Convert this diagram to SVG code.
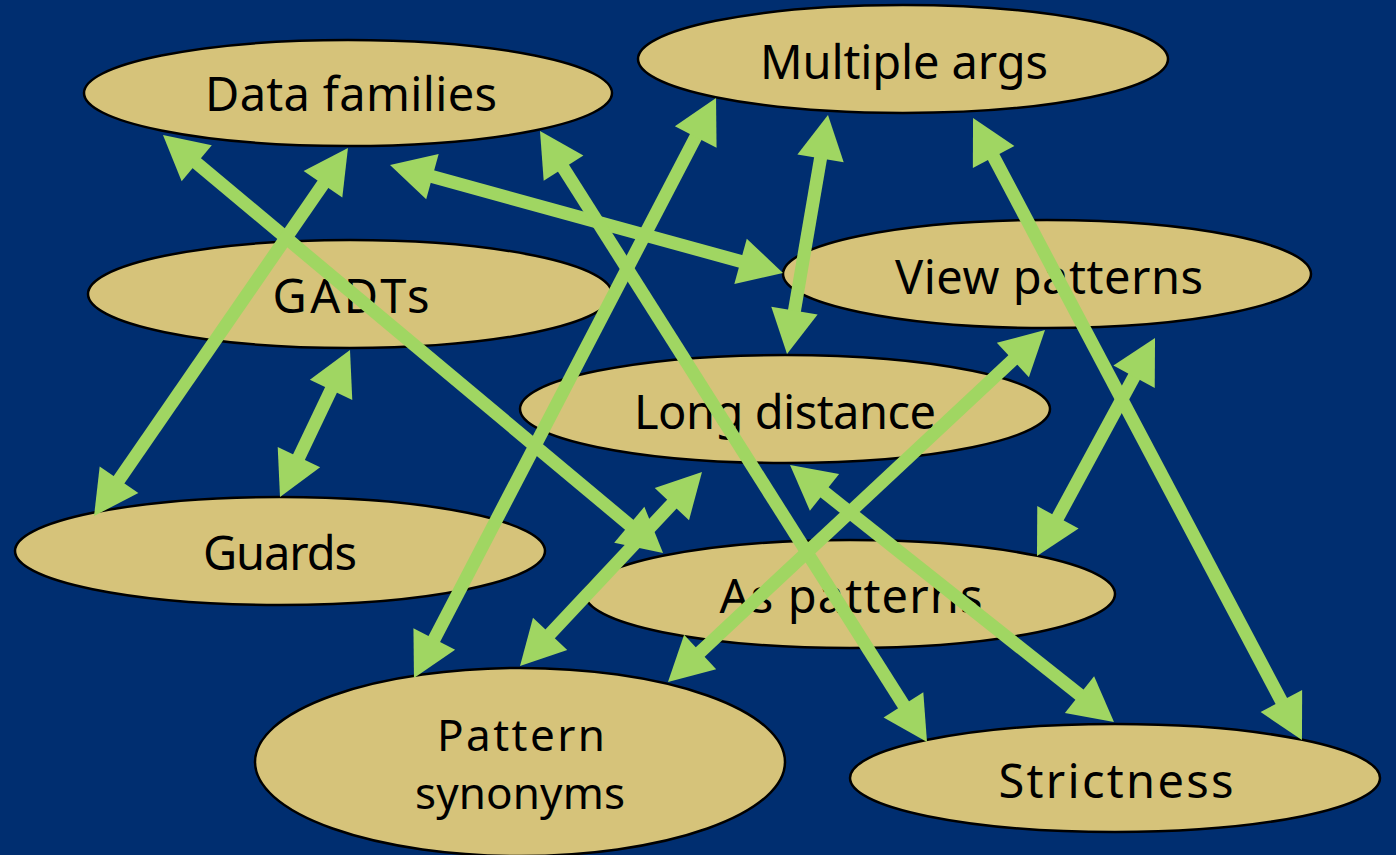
<svg xmlns="http://www.w3.org/2000/svg" width="1396" height="855" viewBox="0 0 1396 855">
  <defs>
    <style>
      .node ellipse { fill: #D6C37A; stroke: #000; stroke-width: 2.5; }
      .node text { font-family: "Noto Sans", "DejaVu Sans", sans-serif; font-size: 47px; fill: #000; text-anchor: middle; }
      .node text.two-line { font-size: 44px; }
      .edges line { stroke: #A0D662; stroke-width: 13; marker-start: url(#head); marker-end: url(#head); }
    </style>
    <marker id="head" markerUnits="userSpaceOnUse" markerWidth="44" markerHeight="47" refX="24" refY="23.5" orient="auto-start-reverse" overflow="visible">
      <path d="M0,0 L44,23.5 L0,47 Z" fill="#A0D662"/>
    </marker>
  </defs>

  <rect width="1396" height="855" fill="#002E70"/>

  <g id="data-families" class="node">
    <ellipse cx="348" cy="93" rx="264" ry="53"/>
    <text x="351" y="111" textLength="292">Data families</text>
  </g>
  <g id="multiple-args" class="node">
    <ellipse cx="903" cy="59" rx="265" ry="54"/>
    <text x="904" y="79" textLength="288">Multiple args</text>
  </g>
  <g id="view-patterns" class="node">
    <ellipse cx="1047" cy="274" rx="264" ry="54"/>
    <text x="1049" y="294" textLength="308">View patterns</text>
  </g>
  <g id="gadts" class="node">
    <ellipse cx="350" cy="294" rx="262" ry="54"/>
    <text x="351" y="313" textLength="157">GADTs</text>
  </g>
  <g id="long-distance" class="node">
    <ellipse cx="785" cy="409" rx="265" ry="54"/>
    <text x="785" y="429" textLength="302">Long distance</text>
  </g>
  <g id="guards" class="node">
    <ellipse cx="280" cy="551" rx="265" ry="54"/>
    <text x="280" y="570" textLength="154">Guards</text>
  </g>
  <g id="as-patterns" class="node">
    <ellipse cx="850" cy="594" rx="265" ry="54"/>
    <text x="851" y="613" textLength="263">As patterns</text>
  </g>
  <g id="pattern-synonyms" class="node">
    <ellipse cx="520" cy="762" rx="265" ry="94"/>
    <text class="two-line" x="521" y="751" textLength="168">Pattern</text>
    <text class="two-line" x="520" y="809" textLength="210">synonyms</text>
  </g>
  <g id="strictness" class="node">
    <ellipse cx="1115" cy="778" rx="265" ry="54"/>
    <text x="1116" y="798" textLength="235">Strictness</text>
  </g>

  <!-- two-way links, each end pulled back 20px so the head covers the stroke -->
  <g id="connectors" class="edges">
    <line x1="178.3" y1="147.8" x2="647.7" y2="540.2"/>
    <line x1="336.6" y1="164.5" x2="105.4" y2="499.5"/>
    <line x1="409.3" y1="170.3" x2="763.7" y2="267.7"/>
    <line x1="550.7" y1="147.9" x2="916.3" y2="725.1"/>
    <line x1="706.8" y1="115.7" x2="423.2" y2="660.3"/>
    <line x1="824.6" y1="134.7" x2="790.4" y2="334.3"/>
    <line x1="982.4" y1="135.7" x2="1292.6" y2="722.3"/>
    <line x1="341.4" y1="368.1" x2="288.6" y2="478.9"/>
    <line x1="688.3" y1="486.6" x2="533.7" y2="651.4"/>
    <line x1="1030.4" y1="343.6" x2="682.6" y2="668.4"/>
    <line x1="1145.5" y1="355.6" x2="1046.5" y2="538.4"/>
    <line x1="805.7" y1="477.4" x2="1098.3" y2="709.6"/>
  </g>
</svg>
